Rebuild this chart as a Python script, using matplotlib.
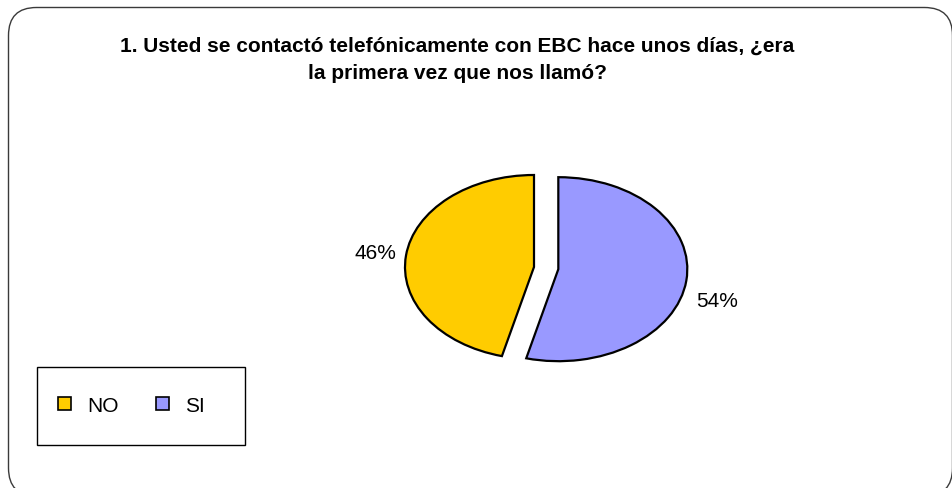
import matplotlib.pyplot as plt
from matplotlib.patches import FancyBboxPatch, Patch, Rectangle

plt.rcParams['font.family'] = ['Liberation Sans', 'DejaVu Sans']

# survey answers
labels = ["NO", "SI"]
shares = [46, 54]
colors = ["#FFCC00", "#9999FF"]
explode = [0, 0.19]
title = "1. Usted se contactó telefónicamente con EBC hace unos días, ¿era\nla primera vez que nos llamó?"

W, H = 952, 489
fig = plt.figure(figsize=(W / 100, H / 100), dpi=100)

# rounded outer frame (right and bottom edges sit on/past the canvas), in inches
frame = FancyBboxPatch((0.085, -0.08), 9.44, 4.885,
                       boxstyle="round,pad=0,rounding_size=0.28",
                       transform=fig.dpi_scale_trans, fill=False,
                       edgecolor="#3a3a3a", linewidth=1.0, clip_on=False)
fig.patches.append(frame)

fig.text(457 / W, 1 - 60 / H, title, ha="center", va="center",
         fontsize=15, fontweight="bold", linespacing=1.55)

# flattened pie: unit radius stretched by the axes box
ax = fig.add_axes([(534 - 193.5) / W, 83 / H, 387 / W, 276 / H])
wedges, texts, autotexts = ax.pie(
    shares, colors=colors, explode=explode, startangle=90,
    counterclock=True, autopct="%d%%", pctdistance=1.24,
    wedgeprops=dict(edgecolor="black", linewidth=1.6),
    textprops=dict(fontsize=15))
# the SI percentage sits a little lower, beside the lower right rim
x, y = autotexts[1].get_position()
autotexts[1].set_position((x, y - 0.19))
ax.set_aspect("auto")
ax.set_xlim(-1.5, 1.5)
ax.set_ylim(-1.5, 1.5)
ax.axis("off")

# legend box
fig.patches.append(Rectangle((37 / W, 1 - 446 / H), 208 / W, 78 / H,
                             transform=fig.transFigure, fill=False,
                             edgecolor="black", linewidth=1.0))
handles = [Patch(facecolor=c, edgecolor="black", linewidth=1.2) for c in colors]
leg = fig.legend(handles, labels, loc="center left",
                 bbox_to_anchor=(58 / W, 1 - 406 / H),
                 ncol=2, frameon=False, fontsize=15,
                 handlelength=0.6, handleheight=0.6,
                 handletextpad=0.8, columnspacing=1.8, borderpad=0,
                 borderaxespad=0)

fig.savefig("out.png", dpi=100)
